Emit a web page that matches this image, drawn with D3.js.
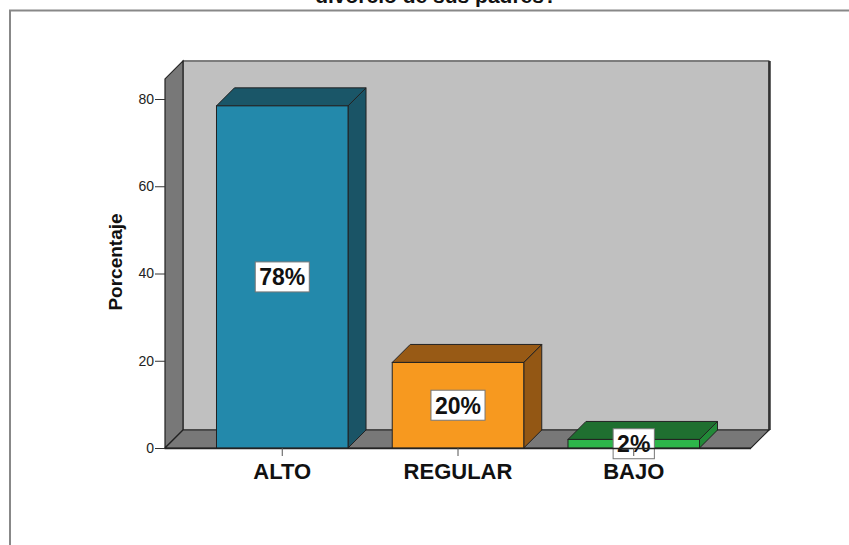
<!DOCTYPE html>
<html>
<head>
<meta charset="utf-8">
<script src="https://cdn.jsdelivr.net/npm/d3@7"></script>
<style>
  html, body { margin: 0; padding: 0; background: #fff; }
  svg { display: block; font-family: Arial, "Liberation Sans", sans-serif; }
</style>
</head>
<body>
<svg id="chart" width="849" height="545"></svg>
<script>
// ---- data ----
const categories = ["ALTO", "REGULAR", "BAJO"];
const values = [78.43, 19.61, 1.96];
const labels = ["78%", "20%", "2%"];
const yTicks = [0, 20, 40, 60, 80];
const titleText = "divorcio de sus padres?";
const yTitle = "Porcentaje";

// ---- styles ----
const frontColors = ["#2389ab", "#f7991f", "#2db54a"];
const darkColors  = ["#1a5668", "#985a15", "#1f6f30"];
const sideColors  = ["#1a5466", "#935714", "#228a38"];

const svg = d3.select("#chart");
const W = 849, H = 545;
const left = 165, right = 751, base = 448;
const dx = 18, dy = 18;

const y = d3.scaleLinear().domain([0, 80]).range([base, 99]);
const x = d3.scaleBand().domain(categories).range([left, right])
  .paddingInner(0.2516).paddingOuter(0.293);
const wallTopVal = 84.6;
const yTop = y(wallTopVal);

// frame
svg.append("line").attr("x1", 9).attr("x2", W).attr("y1", 10.5).attr("y2", 10.5)
  .attr("stroke", "#888").attr("stroke-width", 2);
svg.append("line").attr("x1", 10).attr("x2", 10).attr("y1", 10).attr("y2", H)
  .attr("stroke", "#888").attr("stroke-width", 2);

// title (cut off at top, as in the reference)
svg.append("text").attr("x", 436).attr("y", 3).attr("text-anchor", "middle")
  .attr("font-weight", "bold").attr("font-size", 21).attr("fill", "#111").text(titleText);

const stroke = "#222";
// back wall
svg.append("rect").attr("x", left + dx).attr("y", yTop - dy)
  .attr("width", right - left).attr("height", base - yTop)
  .attr("fill", "#c0c0c0").attr("stroke", stroke).attr("stroke-width", 1);
svg.append("line").attr("x1", right + dx + 0.5).attr("x2", right + dx + 0.5)
  .attr("y1", yTop - dy).attr("y2", base - dy)
  .attr("stroke", "#333").attr("stroke-width", 2.5);
// left wall
svg.append("path")
  .attr("d", `M${left},${base} L${left},${yTop} L${left + dx},${yTop - dy} L${left + dx},${base - dy} Z`)
  .attr("fill", "#787878").attr("stroke", stroke).attr("stroke-width", 1.2);
// floor
svg.append("path")
  .attr("d", `M${left},${base} L${left + dx},${base - dy} L${right + dx},${base - dy} L${right},${base} Z`)
  .attr("fill", "#787878").attr("stroke", stroke).attr("stroke-width", 1.2);

// bars
const data = categories.map((c, i) => ({ c, v: values[i], l: labels[i], i }));
const bars = svg.append("g").selectAll("g").data(data).join("g");
bars.each(function (d) {
  const g = d3.select(this);
  const x0 = x(d.c), x1 = x(d.c) + x.bandwidth();
  const yt = y(d.v);
  g.append("path")
    .attr("d", `M${x1},${yt} L${x1 + dx},${yt - dy} L${x1 + dx},${base - dy} L${x1},${base} Z`)
    .attr("fill", sideColors[d.i]).attr("stroke", stroke).attr("stroke-width", 1);
  g.append("path")
    .attr("d", `M${x0},${yt} L${x0 + dx},${yt - dy} L${x1 + dx},${yt - dy} L${x1},${yt} Z`)
    .attr("fill", darkColors[d.i]).attr("stroke", stroke).attr("stroke-width", 1);
  g.append("rect").attr("x", x0).attr("y", yt).attr("width", x1 - x0).attr("height", base - yt)
    .attr("fill", frontColors[d.i]).attr("stroke", stroke).attr("stroke-width", 1);
});

// y axis
const yAxis = svg.append("g").attr("transform", `translate(${left},0)`)
  .call(d3.axisLeft(y).tickValues(yTicks).tickSize(10).tickPadding(1));
yAxis.select(".domain").remove();
yAxis.selectAll("line").attr("stroke", "#333");
yAxis.selectAll("text").attr("font-size", 14).attr("font-family", "Arial, 'Liberation Sans', sans-serif")
  .attr("fill", "#222");

// x axis
const xAxis = svg.append("g").attr("transform", `translate(0,${base})`)
  .call(d3.axisBottom(x).tickSize(8).tickPadding(7));
xAxis.select(".domain").attr("d", `M${left},0.5H${right}`).attr("stroke", "#222").attr("stroke-width", 1.5);
xAxis.selectAll("line").attr("stroke", "#555");
xAxis.selectAll("text").attr("font-size", 22).attr("font-weight", "bold")
  .attr("font-family", "Arial, 'Liberation Sans', sans-serif").attr("fill", "#111");

// y title
svg.append("text").attr("transform", `translate(122,262) rotate(-90)`)
  .attr("text-anchor", "middle").attr("font-weight", "bold").attr("font-size", 19)
  .attr("fill", "#111").text(yTitle);

// value labels
bars.each(function (d) {
  const g = d3.select(this);
  const cx = x(d.c) + x.bandwidth() / 2;
  const cy = (y(d.v) + base) / 2;
  const t = g.append("text").attr("x", cx).attr("y", cy + 8.5).attr("text-anchor", "middle")
    .attr("font-weight", "bold").attr("font-size", 23).attr("fill", "#111").text(d.l);
  const bb = t.node().getBBox();
  const w = bb.width + 8, h = 30;
  g.insert("rect", "text:last-of-type").attr("x", cx - w / 2).attr("y", cy - h / 2)
    .attr("width", w).attr("height", h).attr("fill", "#fff").attr("stroke", "#777").attr("stroke-width", 1);
});
</script>
</body>
</html>
